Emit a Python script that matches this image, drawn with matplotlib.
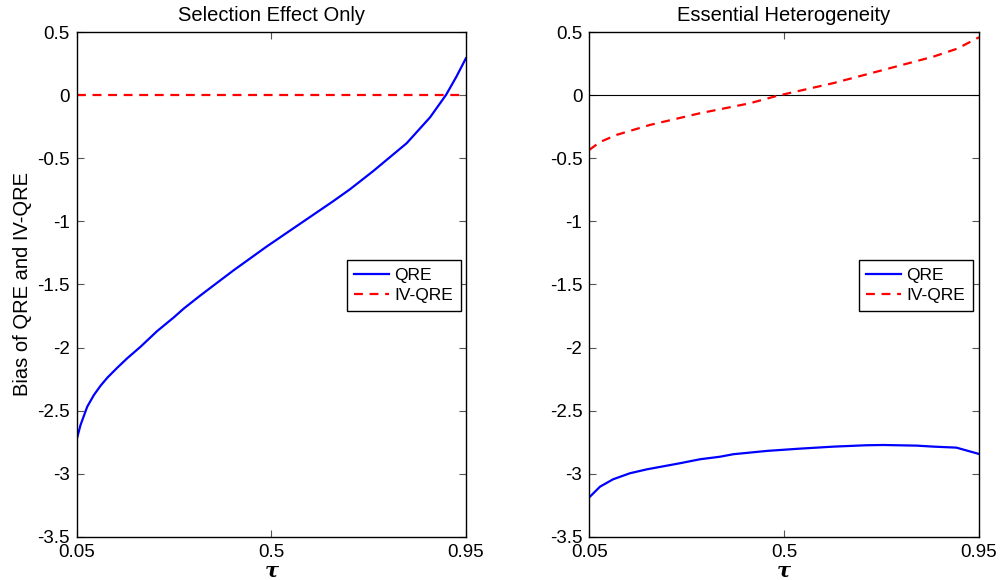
import numpy as np
import matplotlib.pyplot as plt

plt.rcParams['font.family'] = ['Liberation Sans', 'DejaVu Sans']

# Selection effect only
tau_sel = [0.05, 0.059, 0.0745, 0.09, 0.1055, 0.121, 0.144, 0.167, 0.198, 0.236, 0.275,
           0.298, 0.335, 0.358, 0.412, 0.489, 0.566, 0.643, 0.682, 0.736, 0.813, 0.867,
           0.904, 0.928, 0.95]
qre_sel = [-2.73, -2.614, -2.469, -2.376, -2.302, -2.239, -2.16, -2.085, -1.993, -1.87, -1.76,
           -1.69, -1.59, -1.53, -1.39, -1.2, -1.02, -0.84, -0.745, -0.6, -0.38, -0.175,
           0.003, 0.148, 0.294]
ivqre_sel = [0.0] * len(tau_sel)

# Essential heterogeneity
tau_het = [0.05, 0.075, 0.105, 0.144, 0.183, 0.259, 0.306, 0.352, 0.383, 0.46,
           0.536, 0.614, 0.69, 0.729, 0.806, 0.845, 0.898, 0.95]
qre_het = [-3.188, -3.103, -3.045, -2.997, -2.966, -2.918, -2.886, -2.866, -2.846, -2.82,
           -2.802, -2.786, -2.775, -2.773, -2.778, -2.786, -2.794, -2.844]
tau_iv = [0.05, 0.075, 0.113, 0.19, 0.306, 0.421, 0.483, 0.613, 0.729, 0.845, 0.9, 0.95]
ivqre_het = [-0.433, -0.37, -0.314, -0.235, -0.142, -0.063, -0.005, 0.096, 0.201, 0.307, 0.37, 0.46]

xticks = [0.05, 0.5, 0.95]
yticks = np.arange(-3.5, 0.51, 0.5)
ylabels = ['-3.5', '-3', '-2.5', '-2', '-1.5', '-1', '-0.5', '0', '0.5']

fig = plt.figure(figsize=(10.02, 5.8), dpi=100)
ax1 = fig.add_axes([0.0765, 0.0747, 0.3885, 0.8697])
ax2 = fig.add_axes([0.5881, 0.0747, 0.3889, 0.8697])

def style(ax, title):
    ax.set_xlim(0.05, 0.95)
    ax.set_ylim(-3.5, 0.5)
    ax.set_xticks(xticks)
    ax.set_xticklabels(['0.05', '0.5', '0.95'])
    ax.set_yticks(yticks)
    ax.set_yticklabels(ylabels)
    ax.tick_params(direction='in', length=5, width=0.8, color='#555555',
                   top=True, right=True, labelsize=13.5, pad=5)
    for s in ax.spines.values():
        s.set_linewidth(1.0)
        s.set_color('black')
    ax.set_title(title, fontsize=14.5, pad=8)
    ax.set_xlabel('τ', fontsize=15, fontweight='bold', fontstyle='italic',
                  family='DejaVu Serif', labelpad=0)

ax1.plot(tau_sel, qre_sel, color='blue', lw=1.6, label='QRE')
ax1.plot(tau_sel, ivqre_sel, color='red', lw=1.6, ls=(0, (4, 3)), label='IV-QRE')
style(ax1, 'Selection Effect Only')
ax1.set_ylabel('Bias of QRE and IV-QRE', fontsize=14.5, labelpad=4)

ax2.axhline(0, color='black', lw=0.8)
ax2.plot(tau_het, qre_het, color='blue', lw=1.6, label='QRE')
ax2.plot(tau_iv, ivqre_het, color='red', lw=1.6, ls=(0, (4, 3)), label='IV-QRE')
style(ax2, 'Essential Heterogeneity')

for ax, x1 in [(ax1, 0.987), (ax2, 0.9846)]:
    leg = ax.legend(loc='upper right', bbox_to_anchor=(x1, 0.5486), fontsize=12.5,
                    fancybox=False, framealpha=1, edgecolor='black',
                    handlelength=2.0, handletextpad=0.3, borderpad=0.45,
                    labelspacing=0.3, borderaxespad=0)
    leg.get_frame().set_linewidth(1.0)

fig.savefig('out.png', dpi=100)
